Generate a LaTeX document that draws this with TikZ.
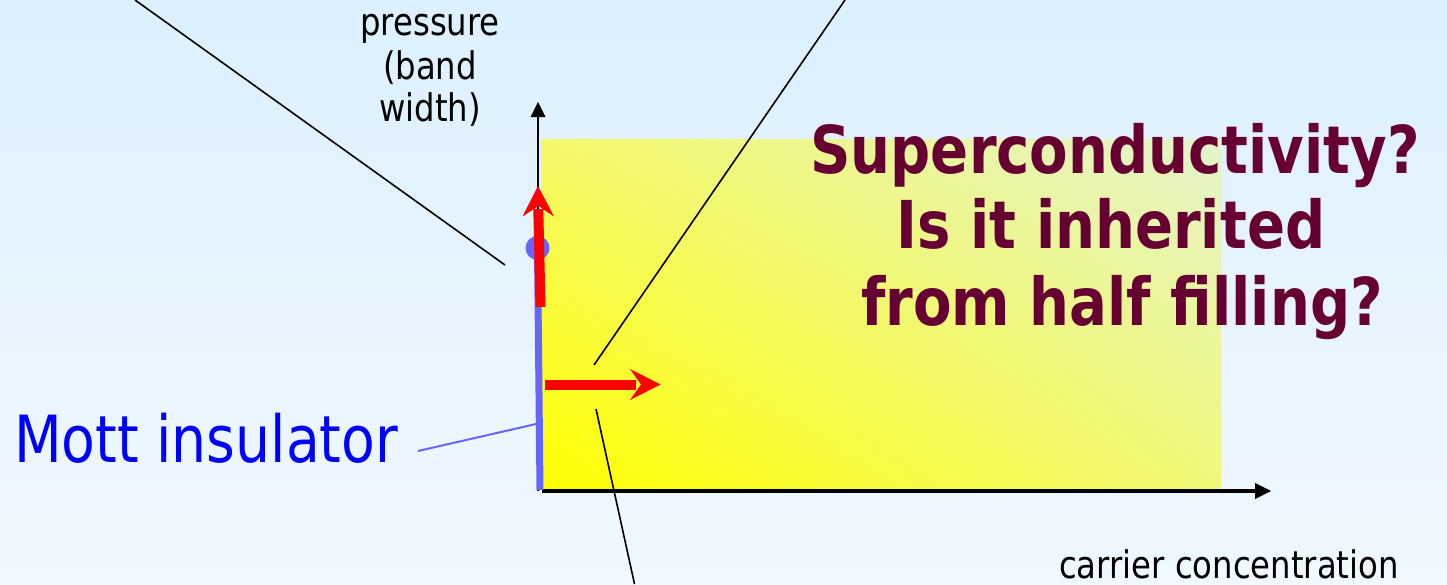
\documentclass[tikz,border=0pt]{standalone}
\usepackage{fontspec}
\setmainfont{DejaVu Sans}[FakeStretch=0.85]
\usetikzlibrary{shadings}
\definecolor{bgtop}{RGB}{220,240,254}
\definecolor{bgbot}{RGB}{241,248,255}
\definecolor{yelA}{RGB}{255,255,0}
\definecolor{yelB}{RGB}{244,248,105}
\definecolor{yelC}{RGB}{240,247,120}
\definecolor{yelD}{RGB}{228,244,205}
\definecolor{maroon}{RGB}{102,0,51}
\definecolor{mottblue}{RGB}{0,0,255}
\definecolor{lineblue}{RGB}{102,102,255}
\definecolor{arrred}{RGB}{255,0,0}
\tikzset{
  lbl/.style={inner sep=0pt, anchor=base},
  bigq/.style={lbl, text=maroon, font=\fontsize{66}{76}\selectfont\bfseries},
  axlbl/.style={lbl, font=\fontsize{38}{43}\selectfont},
  thinline/.style={draw=black, line width=1.6pt},
  redshaft/.style={draw=arrred, line width=10pt},
  redhead/.style={fill=arrred},
}
\begin{document}
\begin{tikzpicture}[x=1pt,y=-1pt]
\useasboundingbox (0,0) rectangle (1447,584);
% background
\shade[top color=bgtop,bottom color=bgbot] (0,0) rectangle (1447,584);
% yellow region
\shade[lower left=yelA, upper left=yelB, lower right=yelC, upper right=yelD] (541.5,139.5) rectangle (1221,490);
% axes
\coordinate (origin) at (538,491);
\coordinate (ytip) at (538,102);
\coordinate (xstart) at (542,491);
\coordinate (xtip) at (1271,491);
\draw[line width=1.6pt] (origin) -- (538,116);
\fill (ytip) -- (545.5,117) -- (530.5,117) -- cycle;
\draw[line width=4pt] (xstart) -- (1256,491);
\fill (xtip) -- (1255,483) -- (1255,499) -- cycle;
% Mott insulator line and dot
\coordinate (mb) at (540,490);
\coordinate (mt) at (537.5,250);
\draw[draw=lineblue, line width=7pt] (mb) -- (mt);
\fill[lineblue] (537.5,248) circle (12);
% red vertical arrow
\coordinate (rv0) at (540.5,307);
\coordinate (rv1) at (538.3,209);
\draw[redshaft] (rv0) -- (rv1);
\fill[redhead] (538,186) -- (554,216.5) -- (538.4,206) -- (522.5,216.5) -- cycle;
% red horizontal arrow
\coordinate (rh0) at (545,384.5);
\coordinate (rh1) at (636,384.5);
\draw[redshaft] (rh0) -- (rh1);
\fill[redhead] (660.5,384.5) -- (630,369) -- (641,384.5) -- (630,400) -- cycle;
% thin pointer lines
\coordinate (p1a) at (135,0);
\coordinate (p1b) at (505,265);
\draw[thinline] (p1a) -- (p1b);
\coordinate (p2a) at (845,0);
\coordinate (p2b) at (594,365);
\draw[thinline] (p2a) -- (p2b);
\coordinate (p3a) at (596,409);
\coordinate (p3b) at (634.5,584);
\draw[thinline] (p3a) -- (p3b);
% labels
\node[lbl, anchor=base west, text=mottblue, font=\fontsize{65}{70}\selectfont] (mott) at (14,462) {Mott insulator};
\coordinate (mla) at (418,451);
\coordinate (mlb) at (536,424);
\draw[draw=lineblue, line width=2pt] (mla) -- (mlb);
\node[axlbl] (press1) at (430,35) {pressure};
\node[axlbl] (press2) at (430,79) {(band};
\node[axlbl] (press3) at (430,121) {width)};
\node[axlbl, anchor=base west] (carrier) at (1059,578) {carrier concentration};
\node[bigq] (sc1) at (1115,173) {Superconductivity?};
\node[bigq] (sc2) at (1111,248) {Is it inherited};
\node[bigq] (sc3) at (1122,325) {from half filling?};
\end{tikzpicture}
\end{document}
